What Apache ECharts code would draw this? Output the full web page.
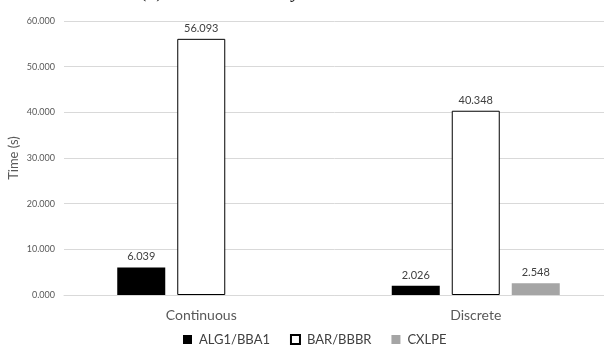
<!DOCTYPE html>
<html>
<head>
<meta charset="utf-8">
<script src="https://cdn.jsdelivr.net/npm/echarts@6/dist/echarts.min.js"></script>
<style>
  html, body { margin: 0; padding: 0; background: #fff; }
  #chart { width: 604px; height: 346px; }
</style>
</head>
<body>
<div id="chart"></div>
<script>
// Run times per problem class and algorithm
const categories = ['Continuous', 'Discrete'];
const seriesNames = ['ALG1/BBA1', 'BAR/BBBR', 'CXLPE'];
const alg1Values = [6.039, 2.026];
const barValues = [56.093, 40.348];
const cxlpeValues = [null, 2.548];
const yTicks = [0, 10, 20, 30, 40, 50, 60];

const FONT = 'Lato, "Open Sans", sans-serif';
const chart = echarts.init(document.getElementById('chart'), null, { renderer: 'canvas' });

const labelStyle = {
  show: true,
  position: 'top',
  distance: 5,
  color: '#404040',
  fontSize: 11,
  fontFamily: FONT,
  formatter: p => p.value == null ? '' : p.value.toFixed(3)
};

chart.setOption({
  animation: false,
  backgroundColor: '#fff',
  title: {
    text: '(a) Total runtime by method',
    left: 136,
    top: -23,
    textStyle: {
      fontFamily: '"Liberation Serif", serif',
      fontStyle: 'italic',
      fontWeight: 'normal',
      fontSize: 20,
      color: '#222'
    }
  },
  grid: { left: 64, top: 21, width: 549, height: 274, outerBoundsMode: 'none', containLabel: false },
  legend: {
    top: 328,
    left: 178,
    icon: 'rect',
    itemWidth: 9,
    itemHeight: 9,
    itemGap: 20,
    textStyle: { color: '#404040', fontSize: 13, fontFamily: FONT, padding: [0, 0, 0, 2] },
    data: seriesNames
  },
  xAxis: {
    type: 'category',
    data: categories,
    axisLine: { show: true, lineStyle: { color: '#d9d9d9' } },
    axisTick: { show: false },
    axisLabel: { color: '#595959', fontSize: 14, fontFamily: FONT, margin: 13 }
  },
  yAxis: {
    type: 'value',
    min: yTicks[0],
    max: yTicks[yTicks.length - 1],
    interval: yTicks[1] - yTicks[0],
    name: 'Time (s)',
    nameLocation: 'middle',
    nameGap: 44,
    nameMoveOverlap: false,
    nameTextStyle: { color: '#595959', fontSize: 13, fontFamily: FONT },
    axisLine: { show: false },
    axisTick: { show: false },
    splitLine: { lineStyle: { color: '#d9d9d9', width: 1 } },
    axisLabel: {
      color: '#595959', fontSize: 9, fontFamily: FONT, margin: 9,
      formatter: v => v.toFixed(3)
    }
  },
  series: [
    {
      name: seriesNames[0], type: 'bar', data: alg1Values,
      barWidth: 48, barGap: '25%',
      itemStyle: { color: '#000000' },
      label: labelStyle
    },
    {
      name: seriesNames[1], type: 'bar', data: barValues,
      barWidth: 48, barGap: '25%',
      itemStyle: { color: '#ffffff', borderColor: '#000000', borderWidth: 1 },
      label: labelStyle
    },
    {
      name: seriesNames[2], type: 'bar', data: cxlpeValues,
      barWidth: 48, barGap: '25%',
      itemStyle: { color: '#a5a5a5' },
      label: labelStyle
    }
  ]
});
</script>
</body>
</html>
